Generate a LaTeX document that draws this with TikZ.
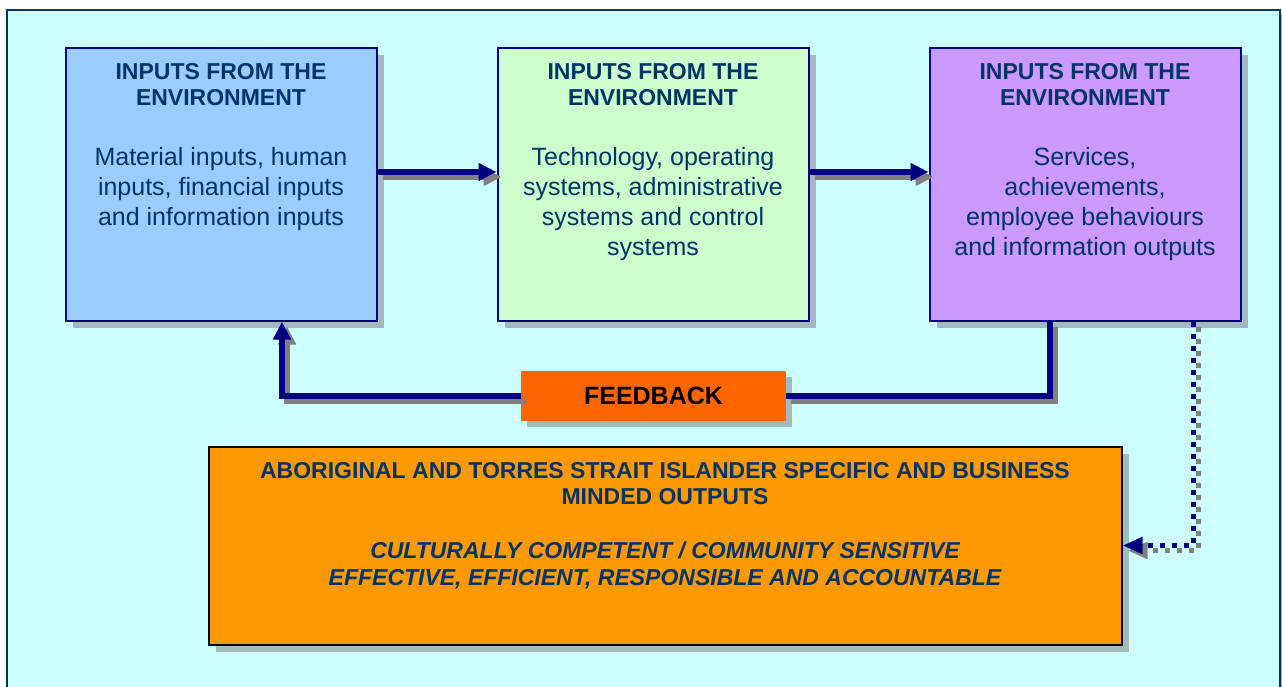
\documentclass[tikz,border=0pt]{standalone}
\usepackage{fontspec}
\setmainfont{Liberation Sans}
\usetikzlibrary{arrows.meta,shadows}
\definecolor{bgc}{HTML}{CCFFFF}
\definecolor{framec}{HTML}{003366}
\definecolor{txtc}{HTML}{003366}
\definecolor{navyc}{HTML}{000080}
\definecolor{boxa}{HTML}{99CCFF}
\definecolor{boxb}{HTML}{CCFFCC}
\definecolor{boxc}{HTML}{CC99FF}
\definecolor{fbc}{HTML}{FF6600}
\definecolor{outc}{HTML}{FF9900}
\definecolor{shbox}{HTML}{A3BABA}
\definecolor{shline}{HTML}{808080}
\begin{document}
\begin{tikzpicture}[x=1pt,y=-1pt,
  boxshadow/.style={drop shadow={shadow xshift=7pt,shadow yshift=-7pt,fill=shbox,opacity=1}},
  stagebox/.style={draw=navyc,line width=2pt,minimum width=311pt,minimum height=273pt,inner sep=0pt,boxshadow},
  titletext/.style={font=\fontsize{23}{26.5}\selectfont\bfseries,text=txtc,align=center,anchor=north,inner sep=0pt},
  bodytext/.style={font=\fontsize{25}{30}\selectfont,text=txtc,align=center,anchor=north,inner sep=0pt},
  outtext/.style={font=\fontsize{23}{26.7}\selectfont\bfseries,text=txtc,align=center,anchor=north,inner sep=0pt},
  flow/.style={draw=navyc,line width=6pt,-{Triangle[length=18pt,width=17pt]}},
  flowline/.style={draw=navyc,line width=6pt},
  dotflow/.style={draw=navyc,line width=5pt,dash pattern=on 5pt off 7pt,-{Triangle[length=20pt,width=16pt]}},
  shadowed/.style={draw=shline,transform canvas={shift={(5pt,-5pt)}}},
]
\useasboundingbox (0,0) rectangle (1282,686);
% background frame
\draw[framec,line width=2pt,fill=bgc,drop shadow={shadow xshift=2.5pt,shadow yshift=-4pt,fill=shbox,opacity=1}] (6.5,9.5) rectangle (1279.5,720);

% stage boxes
\node[stagebox,fill=boxa] (b1) at (221,184) {};
\node[stagebox,fill=boxb] (b2) at (653,184) {};
\node[stagebox,fill=boxc] (b3) at (1085,184) {};

\node[titletext] (t1) at (221,63) {INPUTS FROM THE\\ENVIRONMENT};
\node[titletext] (t2) at (653,63) {INPUTS FROM THE\\ENVIRONMENT};
\node[titletext] (t3) at (1085,63) {INPUTS FROM THE\\ENVIRONMENT};

\node[bodytext] (d1) at (221,146.7) {Material inputs, human\\inputs, financial inputs\\and information inputs};
\node[bodytext] (d2) at (653,146.7) {Technology, operating\\systems, administrative\\systems and control\\systems};
\node[bodytext] (d3) at (1085,146.7) {Services,\\achievements,\\employee behaviours\\and information outputs};

% feedback box
\node[fill=fbc,minimum width=265pt,minimum height=50pt,inner sep=0pt,
      drop shadow={shadow xshift=6pt,shadow yshift=-6pt,fill=shbox,opacity=1},
      font=\fontsize{25}{30}\selectfont\bfseries,text=black] (fb) at (653.5,396) {FEEDBACK};

% output box
\node[draw=black,line width=2pt,fill=outc,minimum width=913pt,minimum height=198pt,inner sep=0pt,boxshadow] (out) at (665,545.5) {};
\node[outtext] (ot) at (665,462) {ABORIGINAL AND TORRES STRAIT ISLANDER SPECIFIC AND BUSINESS\\MINDED OUTPUTS};
\node[outtext,font=\fontsize{23}{26.7}\selectfont\bfseries\itshape] (oi) at (665,541.7) {CULTURALLY COMPETENT / COMMUNITY SENSITIVE\\EFFECTIVE, EFFICIENT, RESPONSIBLE AND ACCOUNTABLE};

% connector shadows
\draw[flow,shadowed] ([yshift=12pt]b1.east) -- ([yshift=12pt]b2.west);
\draw[flow,shadowed] ([yshift=12pt]b2.east) -- ([yshift=12pt]b3.west);
\draw[flowline,shadowed] ([xshift=-35pt]b3.south) |- (fb.east);
\draw[flow,shadowed] (fb.west) -| ([xshift=61pt]b1.south);
\draw[dotflow,shadowed] ([xshift=108pt]b3.south) |- (out.east);

% connectors
\draw[flow] ([yshift=12pt]b1.east) -- ([yshift=12pt]b2.west);
\draw[flow] ([yshift=12pt]b2.east) -- ([yshift=12pt]b3.west);
\draw[flowline] ([xshift=-35pt]b3.south) |- (fb.east);
\draw[flow] (fb.west) -| ([xshift=61pt]b1.south);
\draw[dotflow] ([xshift=108pt]b3.south) |- (out.east);
\end{tikzpicture}
\end{document}
